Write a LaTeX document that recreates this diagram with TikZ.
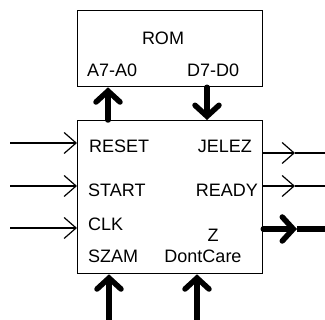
\documentclass[tikz,border=0pt]{standalone}
\usepackage{fontspec}
\setmainfont{Liberation Sans}
\usetikzlibrary{arrows.meta}
\tikzset{
  blockbox/.style={draw, line width=1.3pt, inner sep=0pt, anchor=north west},
  pinlabel/.style={inner sep=0pt, font=\fontsize{18}{20}\selectfont},
  thinpin/.style={line width=1.2pt, -{Straight Barb[length=12pt,width=21pt]}},
  buspin/.style={line width=5.5pt, line cap=round, -{Straight Barb[length=11pt,width=24pt,line cap=round]}},
}
\begin{document}
\begin{tikzpicture}[x=1pt,y=-1pt]
	\useasboundingbox (0,0) rectangle (325,320);
	\node[blockbox, minimum width=185pt, minimum height=76pt] (rom) at (77,10) {};
	\node[blockbox, minimum width=185pt, minimum height=153pt] (ctrl) at (77,120) {};
	% labels
	\node[pinlabel, anchor=base] (romname) at (163,45) {ROM};
	\node[pinlabel, anchor=base west] (addr) at (87,77) {A7-A0};
	\node[pinlabel, anchor=base west] (data) at (187,77) {D7-D0};
	\node[pinlabel, anchor=base west] (reset) at (89,153) {RESET};
	\node[pinlabel, anchor=base west] (start) at (88,197) {START};
	\node[pinlabel, anchor=base west] (clk) at (88,231) {CLK};
	\node[pinlabel, anchor=base west] (szam) at (88,263) {SZAM};
	\node[pinlabel, anchor=base east] (jelez) at (252,153) {JELEZ};
	\node[pinlabel, anchor=base east] (ready) at (258,197) {READY};
	\node[pinlabel, anchor=base] (z) at (213,242) {Z};
	\node[pinlabel, anchor=base] (dontcare) at (203,263) {DontCare};
	% pin ends
	\coordinate (reset in) at (10,143);
	\coordinate (start in) at (10,186);
	\coordinate (clk in) at (10,228);
	\coordinate (jelez tip) at (295,153);
	\coordinate (jelez out) at (325,153);
	\coordinate (ready tip) at (295,186);
	\coordinate (ready out) at (325,186);
	\coordinate (z tip) at (297,229);
	\coordinate (z out) at (325,229);
	\coordinate (szam in) at (109,322);
	\coordinate (dc in) at (197,322);
	% connectors
	\draw[thinpin] (reset in) -- (ctrl.west |- reset in);
	\draw[thinpin] (start in) -- (ctrl.west |- start in);
	\draw[thinpin] (clk in) -- (ctrl.west |- clk in);
	\draw[thinpin] (ctrl.east |- jelez tip) -- (jelez tip);
	\draw[line width=1.2pt] (jelez tip) -- (jelez out);
	\draw[thinpin] (ctrl.east |- ready tip) -- (ready tip);
	\draw[line width=1.2pt] (ready tip) -- (ready out);
	\draw[buspin] (ctrl.east |- z tip) -- (z tip);
	\draw[line width=5.5pt] (z tip) -- (z out);
	\draw[buspin] (ctrl.north -| 108,0) -- (rom.south -| 108,0);
	\draw[buspin] (rom.south -| 207,0) -- (ctrl.north -| 207,0);
	\draw[buspin, line cap=butt] (szam in) -- (ctrl.south -| szam in);
	\draw[buspin, line cap=butt] (dc in) -- (ctrl.south -| dc in);
\end{tikzpicture}
\end{document}
